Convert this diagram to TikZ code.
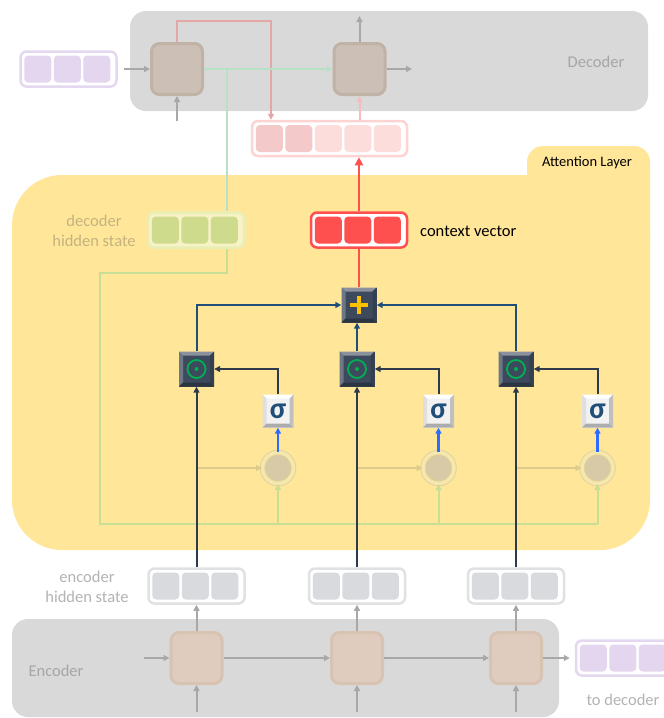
\documentclass[tikz,border=0pt]{standalone}
\usepackage{fontspec}
\setmainfont{Carlito}
\usetikzlibrary{arrows.meta,calc}

\definecolor{boxgray}{HTML}{D9D9D9}
\definecolor{labelgray}{HTML}{A6A6A6}
\definecolor{linegray}{HTML}{A8A8A8}
\definecolor{purplecell}{HTML}{E3D6EE}
\definecolor{purpleedge}{HTML}{E4D8F0}
\definecolor{deccellfill}{HTML}{CBBFB6}
\definecolor{deccelledge}{HTML}{C1B2A6}
\definecolor{enccellfill}{HTML}{DFCCBE}
\definecolor{enccelledge}{HTML}{D8C2B2}
\definecolor{attnyellow}{HTML}{FFE699}
\definecolor{redvec}{HTML}{FF5050}
\definecolor{doutedge}{HTML}{FDD3D3}
\definecolor{doutA}{HTML}{F3C9C9}
\definecolor{doutB}{HTML}{FDDCDC}
\definecolor{dhsedge}{HTML}{E9EEB5}
\definecolor{dhsfill}{HTML}{F7F3C6}
\definecolor{dhscell}{HTML}{CEDB8D}
\definecolor{ehsedge}{HTML}{E0E1E3}
\definecolor{ehscell}{HTML}{D8DADD}
\definecolor{opdark}{HTML}{3D4A5D}
\definecolor{opgreen}{HTML}{00B050}
\definecolor{plusyellow}{HTML}{FFC000}
\definecolor{sigfill}{HTML}{F2F2F2}
\definecolor{sigtext}{HTML}{1F4E79}
\definecolor{scorefill}{HTML}{D8CAA6}
\definecolor{scoreedge}{HTML}{E2D39C}
\definecolor{scorering}{HTML}{F6E8AC}
\definecolor{navy}{HTML}{1F4E79}
\definecolor{darkline}{HTML}{2E3A4B}
\definecolor{sigblue}{HTML}{2F6BFF}
\definecolor{palered}{HTML}{E4A7A7}
\definecolor{palered2}{HTML}{F3BDBD}
\definecolor{greenpale}{HTML}{B8E0C6}
\definecolor{greenbus}{HTML}{C8DE95}
\definecolor{tanline}{HTML}{DCCB8B}
\definecolor{dhstext}{HTML}{C4B37F}
\definecolor{ehstext}{HTML}{B3B3B3}

% vector of cells: name, position, box colours, cell colours
\newcommand\vecnode[4]{%
  \foreach \c [count=\k] in {#4} {\xdef\ncells{\k}}
  \node[vecbox,#3,minimum width=\ncells*29.5+7.5] (#1) at (#2) {};
  \foreach \c [count=\k] in {#4}
    \node[vcell,fill=\c] (#1-\k) at ($(#1.west)+(\k*29.5-11,0)$) {};
}
% bevelled edge of a key: top, left, bottom, right colours
\newcommand\bevel[4]{%
  \fill[#1] (path picture bounding box.north west) -- (path picture bounding box.north east)
    -- ++(-4,4) -- ($(path picture bounding box.north west)+(4,4)$) -- cycle;
  \fill[#2] (path picture bounding box.north west) -- (path picture bounding box.south west)
    -- ++(4,-4) -- ($(path picture bounding box.north west)+(4,4)$) -- cycle;
  \fill[#3] (path picture bounding box.south west) -- (path picture bounding box.south east)
    -- ++(-4,-4) -- ($(path picture bounding box.south west)+(4,-4)$) -- cycle;
  \fill[#4] (path picture bounding box.north east) -- (path picture bounding box.south east)
    -- ++(-4,-4) -- ($(path picture bounding box.north east)+(-4,4)$) -- cycle;
}

\begin{document}
\begin{tikzpicture}[x=1pt,y=-1pt,every node/.style={inner sep=0pt},
  lbl/.style={font=\fontsize{16.5}{20}\selectfont},
  bigbox/.style={fill=boxgray,rounded corners=16},
  rnn/.style={rectangle,rounded corners=8,minimum size=51,line width=3},
  deccell/.style={rnn,fill=deccellfill,draw=deccelledge},
  enccell/.style={rnn,fill=enccellfill,draw=enccelledge},
  vecbox/.style={rectangle,rounded corners=6,line width=2.5,minimum height=35},
  vcell/.style={rectangle,rounded corners=4,minimum size=27},
  opbox/.style={rectangle,minimum size=35,fill=opdark},
  dotop/.style={opbox,path picture={\bevel{opdark!60!white}{opdark!75!white}{opdark!70!black}{opdark!85!black}
    \draw[opgreen,line width=1.8] (path picture bounding box.center) circle[radius=9pt];
    \fill[opgreen] (path picture bounding box.center) circle[radius=2pt];}},
  plusop/.style={opbox,path picture={\bevel{opdark!60!white}{opdark!75!white}{opdark!70!black}{opdark!85!black}
    \draw[plusyellow,line width=4] ([xshift=-9pt]path picture bounding box.center) -- ([xshift=9pt]path picture bounding box.center)
      ([yshift=-9pt]path picture bounding box.center) -- ([yshift=9pt]path picture bounding box.center);}},
  sigbox/.style={rectangle,minimum width=31,minimum height=33,fill=sigfill,
    path picture={\bevel{white}{gray!25}{gray!65}{gray!50}},
    font=\fontsize{30}{30}\selectfont\bfseries,text=sigtext},
  score/.style={circle,minimum size=31,fill=scorefill,draw=scoreedge,line width=1,double=scorering,double distance=3.5},
  tip/.style={-{Triangle[length=6pt,width=6pt]}},
  grayarrow/.style={tip,draw=linegray,line width=2},
  darkarrow/.style={tip,draw=darkline,line width=2},
  navyarrow/.style={tip,draw=navy,line width=2},
  sigarrow/.style={tip,draw=sigblue,line width=2.5},
  tanarrow/.style={tip,draw=tanline,line width=2},
  greenarrow/.style={tip,draw=greenbus,line width=2}]
\useasboundingbox (0,0) rectangle (664,718);
\clip (0,0) rectangle (664,718);
% background blocks
\fill[bigbox] (130,11) rectangle (648,111);
\node[lbl,text=labelgray] (declabel) at (596,62) {Decoder};
\fill[attnyellow,rounded corners=50] (12,175) rectangle (650,550);
\fill[attnyellow,rounded corners=16] (527,146) rectangle (650,260);
\node[font=\fontsize{14.5}{16}\selectfont] (attnlabel) at (587,163) {Attention Layer};
\fill[bigbox] (12,619) rectangle (559,717);
\node[lbl,text=labelgray] (enclabel) at (56,671) {Encoder};

% decoder
\vecnode{pin}{68.5,69}{draw=purpleedge,fill=white}{purplecell,purplecell,purplecell}
\node[deccell] (dcell1) at (177,69) {};
\node[deccell] (dcell2) at (359.5,69) {};
\vecnode{dout}{329.5,138.5}{draw=doutedge,fill=white}{doutA,doutA,doutB,doutB,doutB}
\coordinate (dnext) at (412,69);
\coordinate (dtop) at (359.5,16);
\coordinate (dbot) at (177,121);
\coordinate (rtop) at (271,21);
\coordinate (gsplit) at (227,69);
\coordinate (gturn) at (100,273);
\coordinate (gbus) at (100,524);
\draw[grayarrow,shorten <=6pt] (pin.east) -- (dcell1.west);
\draw[grayarrow] (dcell2.east) -- (dnext);
\draw[grayarrow] (dcell2.north) -- (dtop);
\draw[grayarrow] (dbot) -- (dcell1.south);
\draw[tip,draw=palered,line width=2] (dcell1.north) |- (rtop) -- (rtop |- dout.north);
\draw[tip,draw=greenpale,line width=2] (dcell1.east) -- (dcell2.west);
\draw[tip,draw=palered2,line width=2] (dcell2.south |- dout.north) -- (dcell2.south);

% attention layer
\vecnode{dhs}{196,230}{draw=dhsedge,fill=dhsfill}{dhscell,dhscell,dhscell}
\vecnode{ctx}{359,230}{draw=redvec,fill=white}{redvec,redvec,redvec}
\node[lbl,text=dhstext,align=center] (dhslabel) at (94,231) {decoder\\hidden state};
\node[lbl,anchor=west] (ctxlabel) at (420,231) {context vector};
\node[plusop] (plus) at (359,305) {};
\draw[greenpale,line width=2] (gsplit) -- (gsplit |- dhs.north);
\draw[-{Triangle[length=8pt,width=8pt]},draw=redvec,line width=2.5] (ctx.north) -- (ctx.north |- dout.south);
\draw[draw=redvec,line width=2.5] (plus.north) -- (plus.north |- ctx.south);

\foreach \i/\x/\sx in {1/196.5/278,2/357/438.5,3/516/597.5} {
  \node[dotop] (dot\i) at (\x,369) {};
  \node[sigbox] (sig\i) at (\sx,411) {σ};
  \node[score] (sc\i) at (\sx,468) {};
  \vecnode{ehs\i}{\x,586}{draw=ehsedge,fill=white}{ehscell,ehscell,ehscell}
  \node[enccell] (ecell\i) at (\x,658) {};
}
\draw[greenbus,line width=2] (gsplit |- dhs.south) |- (gturn) |- (sc3.south |- gbus);
\draw[navyarrow] (dot1.north) |- (plus.west);
\draw[navyarrow] (dot3.north) |- (plus.east);
\draw[navyarrow] (dot2.north) -- (dot2.north |- plus.south);

% encoder
\coordinate (ein) at (144,658);
\coordinate (ebot) at (0,712);
\vecnode{eout}{624,658}{draw=purpleedge,fill=white}{purplecell,purplecell,purplecell}
\node[lbl,text=ehstext,align=center] (ehslabel) at (87,587) {encoder\\hidden state};
\node[lbl,text=ehstext] (todec) at (623,700) {to decoder};
\draw[grayarrow] (ein) -- (ecell1.west);
\draw[grayarrow] (ecell1) -- (ecell2);
\draw[grayarrow] (ecell2) -- (ecell3);
\draw[grayarrow,shorten >=5pt] (ecell3) -- (eout);

\foreach \i in {1,2,3} {
  \draw[tanarrow] (dot\i |- sc\i) -- (sc\i.west);
  \draw[greenarrow] (sc\i.south |- gbus) -- (sc\i.south);
  \draw[sigarrow] (sc\i.north) -- (sig\i.south);
  \draw[darkarrow] (sig\i.north) |- (dot\i.east);
  \draw[darkarrow] (dot\i.south |- ehs\i.north) -- (dot\i.south);
  \draw[grayarrow] (ecell\i.north) -- (ehs\i.south);
  \draw[grayarrow] (ecell\i.south |- ebot) -- (ecell\i.south);
}
\end{tikzpicture}
\end{document}
